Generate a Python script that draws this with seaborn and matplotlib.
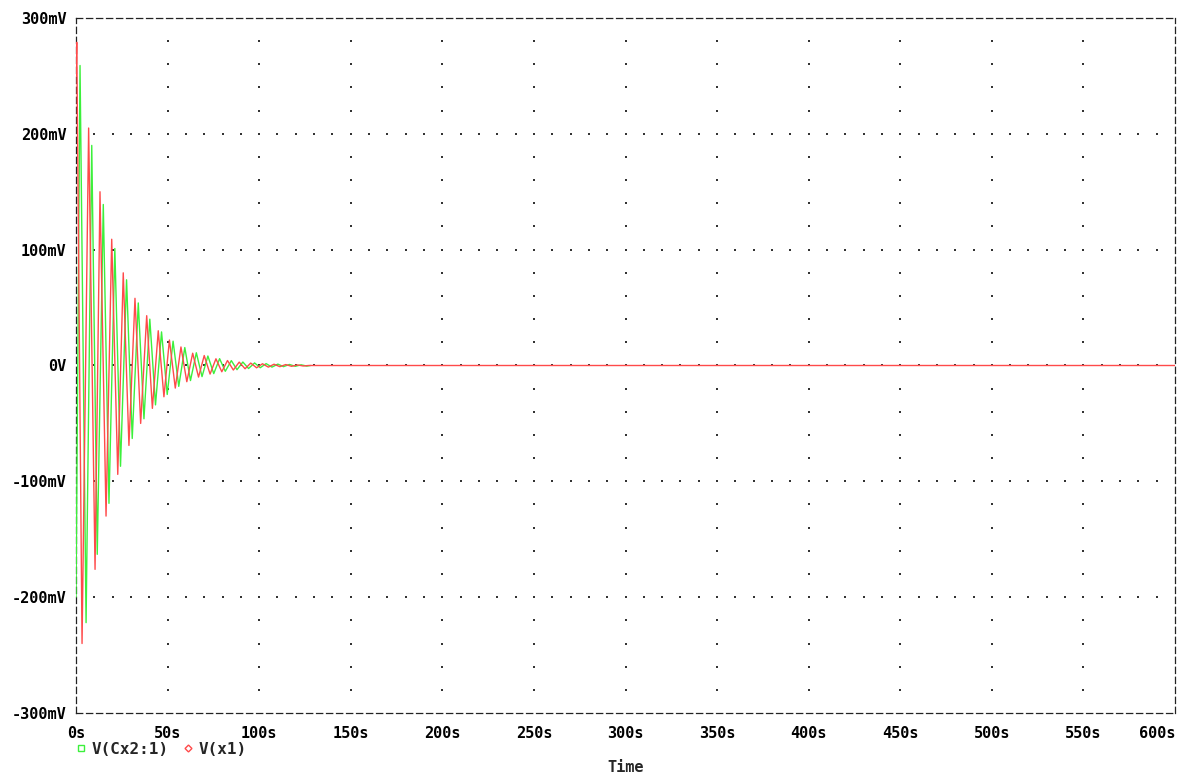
import numpy as np
import pandas as pd
import matplotlib
matplotlib.use("Agg")
import matplotlib.pyplot as plt
from matplotlib.lines import Line2D
import seaborn as sns

# ---- data ----
series_names = ["V(Cx2:1)", "V(x1)"]

# green trace is hidden beneath the red one after ~128 s
green_t = [0, 2.2, 5.5, 8.6, 11.6, 14.9, 18.0, 21.2, 24.3, 27.6,
           30.7, 34.0, 37.1, 40.3, 43.4, 46.7, 49.8, 53.0, 56.1, 59.4,
           62.5, 65.7, 68.8, 72.0, 75.2, 78.4, 81.5, 84.8, 87.9, 91.1,
           94.2, 97.5, 100.6, 103.8, 107.0, 110.2, 113.3, 116.5, 119.7, 122.9,
           126.0, 128.0]
green_mv = [-200, 259, -222, 190, -163, 139, -119, 101, -87, 74,
            -63, 54, -46, 40, -34, 29, -25, 21, -18, 15.5,
            -13, 11, -9.6, 8.2, -7, 5.9, -5, 4.2, -3.6, 3.0,
            -2.6, 2.2, -1.9, 1.6, -1.4, 1.2, -1.0, 0.9, -0.7, 0.6,
            -0.5, 0]

red_t = [0, 0.4, 3.3, 6.9, 10.4, 13.1, 16.4, 19.5, 22.8, 25.8,
         28.9, 32.2, 35.3, 38.6, 41.7, 44.9, 48.0, 51.0, 54.2, 57.3,
         60.5, 63.7, 66.9, 70.0, 73.2, 76.4, 79.6, 82.7, 85.9, 89.1,
         92.3, 95.4, 98.6, 101.8, 105.0, 108.1, 111.3, 114.5, 117.7, 120.8,
         124.0, 127.0, 600]
red_mv = [250, 279, -240, 205, -176, 150, -130, 109, -94, 80,
          -69, 58, -50, 43, -37, 30, -27, 22, -19.5, 16,
          -14, 10.6, -10, 8.6, -7.4, 5.8, -5.4, 4.3, -3.9, 2.9,
          -2.8, 2.1, -2.0, 1.5, -1.4, 1.1, -1.0, 0.8, -0.7, 0.5,
          -0.4, 0, 0]

x_ticks = [0, 50, 100, 150, 200, 250, 300, 350, 400, 450, 500, 550, 600]
x_labels = ["0s", "50s", "100s", "150s", "200s", "250s", "300s", "350s",
            "400s", "450s", "500s", "550s", "600s"]
y_ticks = [-300, -200, -100, 0, 100, 200, 300]
y_labels = ["-300mV", "-200mV", "-100mV", "0V", "100mV", "200mV", "300mV"]

colors = {"V(Cx2:1)": "#3cf03c", "V(x1)": "#ff4a4a"}

df = pd.concat([
    pd.DataFrame({"t": green_t, "v": green_mv, "series": series_names[0]}),
    pd.DataFrame({"t": red_t, "v": red_mv, "series": series_names[1]}),
], ignore_index=True)

# ---- figure ----
sns.set_theme(style="white")
plt.rcParams["font.family"] = ["DejaVu Sans Mono", "DejaVu Sans"]
fig = plt.figure(figsize=(11.87, 7.76), dpi=100)
ax = fig.add_axes([76 / 1187, 1 - 713 / 776, 1099 / 1187, 695 / 776])

# dotted grid: dots at major x / minor y and minor x / major y
minor_x = np.arange(10, 600, 10)
minor_y = np.arange(-280, 300, 20)
gx1, gy1 = np.meshgrid(x_ticks[1:-1], minor_y)
gx2, gy2 = np.meshgrid(minor_x, y_ticks[1:-1])
ax.scatter(np.concatenate([gx1.ravel(), gx2.ravel()]),
           np.concatenate([gy1.ravel(), gy2.ravel()]),
           s=1.3, marker="s", color="#333333", linewidths=0, zorder=1)

sns.lineplot(data=df, x="t", y="v", hue="series", hue_order=series_names,
             palette=colors, estimator=None, sort=False, linewidth=1.0,
             legend=False, ax=ax, zorder=3)

ax.set_xlim(0, 600)
ax.set_ylim(-300, 300)
ax.set_xticks(x_ticks)
ax.set_xticklabels(x_labels)
ax.set_yticks(y_ticks)
ax.set_yticklabels(y_labels)
ax.tick_params(axis="both", which="major", direction="out", color="black",
               width=0.9, labelsize=11, colors="black")
ax.tick_params(axis="y", length=5, pad=2)
ax.tick_params(axis="x", length=3, pad=6)
for lab in ax.get_xticklabels() + ax.get_yticklabels():
    lab.set_fontweight("bold")
ax.get_xticklabels()[-1].set_horizontalalignment("right")
ax.set_xlabel("Time", fontsize=11, fontweight="bold", labelpad=14)
ax.set_ylabel("")

for sp in ax.spines.values():
    sp.set_visible(True)
    sp.set_color("#222222")
    sp.set_linewidth(0.9)
    sp.set_linestyle((0, (5, 3)))

handles = [
    Line2D([], [], linestyle="none", marker="s", markersize=4.5,
           markerfacecolor="none", markeredgecolor=colors[series_names[0]],
           markeredgewidth=1.0),
    Line2D([], [], linestyle="none", marker="D", markersize=3.5,
           markerfacecolor="none", markeredgecolor=colors[series_names[1]],
           markeredgewidth=1.0),
]
leg = fig.legend(handles, series_names, loc="center left",
                 bbox_to_anchor=(77 / 1187, 1 - 749 / 776), ncol=2,
                 frameon=False, handlelength=0.5, handletextpad=0.4,
                 columnspacing=1.0, borderpad=0, borderaxespad=0,
                 prop={"family": "DejaVu Sans Mono", "weight": "bold",
                       "size": 11.5})

fig.savefig("out.png", dpi=100, facecolor="white")
